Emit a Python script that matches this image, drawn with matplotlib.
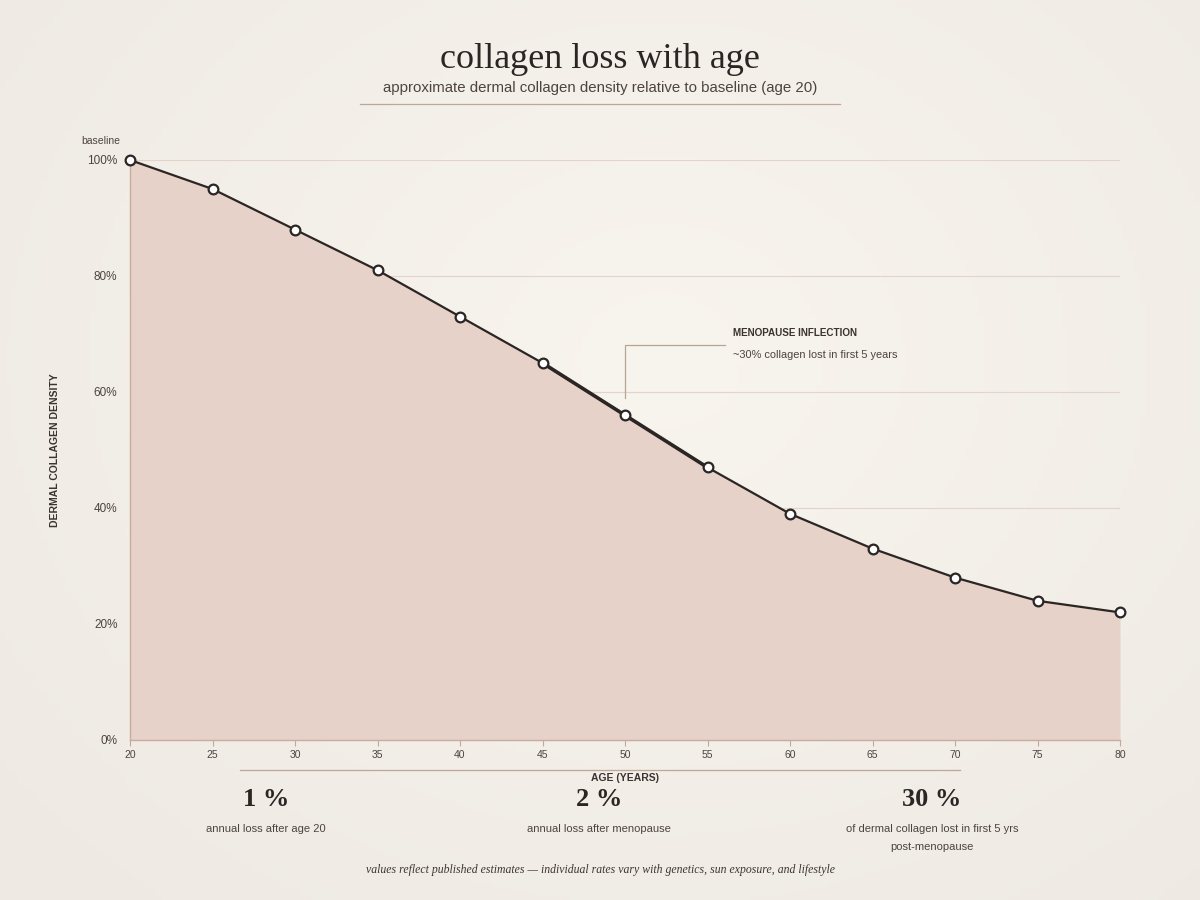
import matplotlib.pyplot as plt
import numpy as np

# данные
AGES = [20, 25, 30, 35, 40, 45, 50, 55, 60, 65, 70, 75, 80]
DENSITY = [100, 95, 88, 81, 73, 65, 56, 47, 39, 33, 28, 24, 22]
Y_TICKS = [0, 20, 40, 60, 80, 100]
HIGHLIGHT = (45, 55)  # участок менопаузы
STAT_VALUES = ['1 %', '2 %', '30 %']
STAT_LABELS = ['annual loss after age 20',
               'annual loss after menopause',
               'of dermal collagen lost in first 5 yrs\npost-menopause']

SERIF = ['Liberation Serif', 'DejaVu Serif']
SANS = ['Liberation Sans', 'DejaVu Sans']
INK = '#2b2624'
MUTED = '#4d4440'
RULE = '#bba898'

fig = plt.figure(figsize=(12, 9), dpi=100)

# фон с мягким радиальным градиентом
bg = fig.add_axes([0, 0, 1, 1], zorder=-10)
yy, xx = np.mgrid[0:1:200j, 0:1:200j]
r = np.sqrt((xx - 0.55) ** 2 + ((yy - 0.6) * 0.9) ** 2)
c0 = np.array([248, 244, 238]) / 255
c1 = np.array([238, 233, 227]) / 255
t = np.clip(r / 0.75, 0, 1)[..., None]
bg.imshow(c0 * (1 - t) + c1 * t, extent=[0, 1, 0, 1], aspect='auto', origin='lower')
bg.axis('off')

ax = fig.add_axes([130 / 1200, 1 - 740 / 900, 990 / 1200, 580 / 900])
ax.patch.set_alpha(0)
ax.set_xlim(20, 80)
ax.set_ylim(0, 100)

x = np.array(AGES)
y = np.array(DENSITY)
ax.fill_between(x, y, 0, color='#e6d2c9', lw=0, zorder=1)
ax.plot(x, y, color=INK, lw=1.6, zorder=3, solid_joinstyle='round')
m = (x >= HIGHLIGHT[0]) & (x <= HIGHLIGHT[1])
ax.plot(x[m], y[m], color=INK, lw=2.6, zorder=3, solid_capstyle='round')
ax.plot(x, y, ls='none', marker='o', ms=7, mfc='white', mec=INK, mew=1.6,
        zorder=4, clip_on=False)

for v in Y_TICKS[1:]:
    ax.axhline(v, color='#e3d3c8', lw=0.8, zorder=0.5)

ax.set_xticks(AGES)
ax.set_yticks(Y_TICKS)
ax.set_yticklabels([f'{v}%' for v in Y_TICKS], fontsize=8.5, color=MUTED, family=SANS)
ax.set_xticklabels([str(a) for a in AGES], fontsize=7.5, color=MUTED, family=SANS)
ax.tick_params(axis='y', length=0, pad=9)
ax.tick_params(axis='x', length=4, color='#c4a898', pad=3)
for s in ['top', 'right']:
    ax.spines[s].set_visible(False)
for s in ['left', 'bottom']:
    ax.spines[s].set_color('#c8ac9e')
    ax.spines[s].set_linewidth(1.0)

ax.set_ylabel('DERMAL COLLAGEN DENSITY', fontsize=7.5, color='#3a3330',
              family=SANS, fontweight='bold')
ax.yaxis.set_label_coords(-0.0707, 0.5)

ax.text(19.4, 103.2, 'baseline', fontsize=7.5, color=MUTED, family=SANS,
        ha='right', va='center')

# аннотация менопаузы
ax.plot([50, 50, 56.06], [59, 68.1, 68.1], color='#b5a595', lw=0.9, zorder=2)
ax.text(56.55, 70.2, 'MENOPAUSE INFLECTION', fontsize=7.1, fontweight='bold',
        color='#3a3330', family=SANS, va='center')
ax.text(56.55, 66.4, '~30% collagen lost in first 5 years', fontsize=7.9,
        color=MUTED, family=SANS, va='center')

# заголовки
fig.text(0.5, 1 - 60 / 900, 'collagen loss with age', fontsize=26, color=INK,
         family=SERIF, ha='center', va='center')
fig.text(0.5, 1 - 88 / 900, 'approximate dermal collagen density relative to baseline (age 20)',
         fontsize=10.85, color=MUTED, family=SANS, ha='center', va='center')
fig.add_artist(plt.Line2D([360 / 1200, 840 / 1200], [1 - 104 / 900] * 2,
                          color=RULE, lw=0.9))

# нижний блок
fig.add_artist(plt.Line2D([240 / 1200, 960 / 1200], [1 - 770 / 900] * 2,
                          color=RULE, lw=0.9))
fig.text(625 / 1200, 1 - 778 / 900, 'AGE (YEARS)', fontsize=7.5, fontweight='bold',
         color='#3a3330', family=SANS, ha='center', va='center')
stat_x = [266, 599, 932]
for sx, val, lab in zip(stat_x, STAT_VALUES, STAT_LABELS):
    fig.text(sx / 1200, 1 - 799 / 900, val, fontsize=19, fontweight='bold',
             color=INK, family=SERIF, ha='center', va='center')
    fig.text(sx / 1200, 1 - 824 / 900, lab, fontsize=8, color=MUTED, family=SANS,
             ha='center', va='top', linespacing=2.0)

fig.text(0.5, 1 - 870 / 900,
         'values reflect published estimates \u2014 individual rates vary with genetics, sun exposure, and lifestyle',
         fontsize=8.5, style='italic', color='#3d3532', family=SERIF, ha='center', va='center')

fig.savefig('out.png', dpi=100)
